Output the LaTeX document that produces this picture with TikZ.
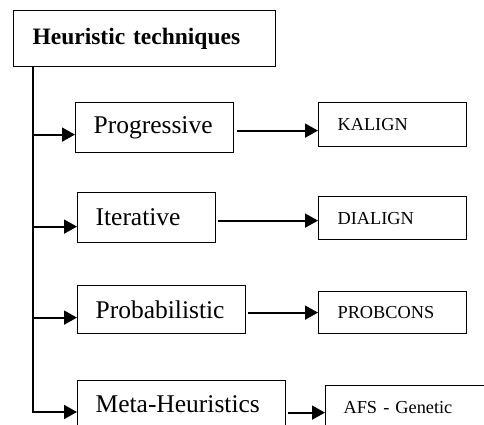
\documentclass[tikz,border=0pt]{standalone}
\usepackage{fontspec}
\setmainfont{Liberation Serif}
\usetikzlibrary{arrows.meta}
\tikzset{
  box/.style={draw, line width=1.2pt, anchor=north west, inner xsep=18pt, inner ysep=0pt, align=left, font=\fontsize{25.5}{28}\selectfont},
  smallbox/.style={box, inner xsep=19pt, font=\fontsize{18.3}{21}\selectfont},
  arr/.style={line width=1.8pt, -{Triangle[length=13pt,width=14pt]}}
}
\begin{document}
\begin{tikzpicture}[x=1pt,y=-1pt]
	\useasboundingbox (0,0) rectangle (484,425);
	\clip (0,0) rectangle (484,425);
	
	\node[box, inner xsep=19pt, text width=224pt, minimum height=56pt, font=\fontsize{23.5}{26}\selectfont\bfseries] (heur) at (13,10) {Heuristic techniques};
	
	\node[box, text width=122pt, minimum height=50pt] (prog) at (75,102) {Progressive};
	\node[box, text width=102pt, minimum height=50pt] (iter) at (77,192) {Iterative};
	\node[box, text width=132pt, minimum height=48pt] (prob) at (77,285) {Probabilistic};
	\node[box, text width=172pt, minimum height=48pt] (meta) at (77,380) {Meta-Heuristics};
	
	\node[smallbox, text width=110pt, minimum height=44pt] (kal) at (318,102) {KALIGN};
	\node[smallbox, text width=110pt, minimum height=43pt] (dia) at (318,196) {DIALIGN};
	\node[smallbox, text width=110pt, minimum height=42pt] (pcons) at (318,291) {PROBCONS};
	\node[smallbox, inner xsep=18pt, text width=134pt, minimum height=44pt] (afs) at (325,385) {AFS - Genetic};
	
	\coordinate (trunk) at (33,412);
	\draw[line width=2.4pt, line cap=rect] (heur.south -| trunk) -- (trunk);
	
	\draw[arr] ([yshift=-7pt]prog.west -| trunk) -- ([yshift=-7pt]prog.west);
	\draw[arr] ([yshift=-9pt]iter.west -| trunk) -- ([yshift=-9pt]iter.west);
	\draw[arr] ([yshift=-8pt]prob.west -| trunk) -- ([yshift=-8pt]prob.west);
	\draw[arr] (trunk) -- (trunk -| meta.west);
	
	\draw[arr] ([xshift=3pt,yshift=-3pt]prog.east) -- ([yshift=-3pt]prog.east -| kal.west);
	\draw[arr] ([xshift=2pt,yshift=-3pt]iter.east) -- ([yshift=-3pt]iter.east -| dia.west);
	\draw[arr] ([xshift=2pt,yshift=-3pt]prob.east) -- ([yshift=-3pt]prob.east -| pcons.west);
	\draw[arr] ([xshift=2pt,yshift=-8pt]meta.east) -- ([yshift=-8pt]meta.east -| afs.west);
\end{tikzpicture}
\end{document}
